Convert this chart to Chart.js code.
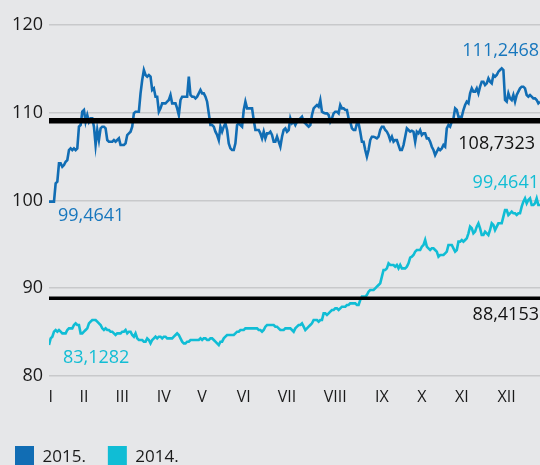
<!DOCTYPE html>
<html>
<head>
<meta charset="utf-8">
<script src="https://cdn.jsdelivr.net/npm/chart.js@4.4.1/dist/chart.umd.min.js"></script>
<style>
  html, body { margin: 0; padding: 0; background: #e6e7e9; overflow: hidden; }
  #wrap { width: 540px; height: 479px; }
</style>
</head>
<body>
<div id="wrap"><canvas id="c" width="540" height="479"></canvas></div>
<script>
// ---- data ----
const seriesNames = ['2015.', '2014.'];
const monthLabels = ['I','II','III','IV','V','VI','VII','VIII','IX','X','XI','XII'];
const monthIdx = [1, 21, 44, 69, 92, 117, 143, 172, 200, 224, 248, 275];
const yTicks = [80, 90, 100, 110, 120];

const values2015 = [
99.87, 99.87, 99.87, 99.87, 101.95, 102.14, 104.23, 104.23, 103.85, 104.04,
104.42, 104.61, 105.75, 105.94, 105.75, 105.94, 105.75, 105.94, 108.41, 108.60,
110.12, 110.31, 108.98, 109.74, 108.98, 109.36, 109.36, 108.41, 106.32, 108.03,
106.89, 108.22, 108.41, 108.41, 108.22, 106.89, 106.70, 106.70, 106.70, 106.89,
106.70, 106.89, 107.08, 106.32, 106.32, 106.32, 106.51, 107.46, 107.65, 107.84,
108.41, 109.93, 110.12, 110.12, 110.12, 112.21, 113.73, 114.87, 114.30, 114.11,
114.30, 114.11, 112.59, 112.78, 111.83, 111.83, 110.12, 110.50, 111.07, 111.07,
111.07, 111.26, 111.45, 112.02, 111.07, 111.07, 111.07, 110.50, 109.74, 111.45,
111.83, 111.83, 111.83, 111.83, 114.11, 112.02, 111.83, 111.83, 111.64, 111.83,
112.21, 112.59, 112.21, 112.21, 111.83, 111.26, 109.93, 108.60, 108.60, 108.41,
107.84, 107.46, 106.89, 108.41, 107.84, 108.41, 108.79, 108.03, 106.51, 105.94,
105.75, 105.75, 106.51, 108.60, 108.79, 108.60, 108.41, 110.31, 111.26, 110.50,
110.50, 110.50, 110.50, 109.17, 108.03, 108.03, 108.03, 107.65, 107.08, 107.84,
107.08, 107.65, 107.65, 107.84, 107.46, 106.70, 106.70, 107.27, 106.70, 106.13,
107.27, 108.03, 108.22, 107.84, 108.03, 109.36, 108.79, 108.98, 108.60, 108.98,
109.17, 109.36, 109.55, 108.98, 108.79, 108.60, 108.41, 108.60, 109.74, 110.50,
110.69, 110.88, 110.69, 111.45, 110.12, 110.00, 109.93, 109.93, 109.74, 108.98,
109.36, 109.93, 110.12, 110.12, 109.93, 110.88, 110.50, 110.50, 110.31, 110.31,
109.36, 108.98, 108.22, 108.03, 108.03, 108.79, 108.79, 107.84, 106.70, 106.70,
105.75, 104.99, 105.75, 106.89, 107.27, 107.27, 107.20, 107.08, 107.27, 108.03,
108.41, 108.41, 108.03, 107.84, 107.46, 106.89, 107.27, 106.70, 106.89, 106.89,
106.32, 105.75, 105.75, 106.32, 107.27, 108.22, 108.03, 107.84, 107.95, 107.84,
106.70, 107.84, 107.65, 108.03, 107.46, 107.65, 107.65, 107.08, 107.08, 106.70,
106.13, 105.75, 105.18, 105.56, 105.94, 105.75, 105.94, 106.32, 106.13, 108.22,
108.60, 108.41, 108.98, 109.36, 110.50, 110.31, 109.55, 109.55, 109.55, 110.31,
110.88, 111.26, 111.07, 112.21, 112.78, 112.40, 112.40, 112.78, 112.21, 112.97,
113.54, 113.54, 113.16, 113.35, 113.92, 113.54, 113.35, 114.30, 114.11, 114.30,
114.68, 114.87, 115.06, 114.87, 111.45, 111.26, 112.21, 111.64, 111.45, 112.02,
111.26, 112.02, 112.40, 112.78, 112.97, 112.97, 112.78, 112.02, 111.83, 112.02,
111.83, 111.64, 111.64, 111.45, 111.07, 111.26
];

const values2014 = [
83.53, 84.29, 84.48, 85.05, 85.24, 85.05, 85.24, 85.05, 84.86, 84.86,
84.86, 85.24, 85.43, 85.43, 85.43, 85.81, 86.00, 85.81, 85.81, 84.86,
84.86, 85.05, 85.24, 85.43, 86.00, 86.19, 86.38, 86.38, 86.38, 86.19,
86.00, 85.81, 85.43, 85.24, 85.43, 85.24, 85.24, 85.05, 85.05, 84.86,
84.67, 84.86, 84.86, 84.86, 85.05, 85.05, 85.24, 84.86, 85.05, 85.05,
84.67, 84.48, 84.86, 84.29, 84.10, 84.10, 84.10, 83.91, 83.91, 84.29,
84.10, 83.72, 84.10, 84.29, 84.48, 84.29, 84.48, 84.48, 84.29, 84.48,
84.48, 84.29, 84.29, 84.29, 84.29, 84.48, 84.67, 84.86, 84.67, 84.29,
83.91, 83.72, 83.72, 83.91, 83.91, 84.10, 84.10, 84.10, 84.10, 84.10,
84.10, 84.29, 84.10, 84.29, 84.29, 84.10, 84.10, 84.29, 84.29, 84.10,
83.91, 83.72, 83.53, 83.91, 83.91, 84.29, 84.48, 84.67, 84.67, 84.67,
84.67, 84.67, 84.86, 85.05, 85.05, 85.24, 85.24, 85.24, 85.43, 85.43,
85.43, 85.43, 85.43, 85.43, 85.43, 85.43, 85.24, 85.24, 85.05, 85.24,
85.62, 85.81, 85.81, 85.81, 85.81, 85.81, 85.62, 85.62, 85.43, 85.24,
85.24, 85.24, 85.43, 85.43, 85.43, 85.43, 85.24, 85.05, 85.43, 85.62,
85.81, 85.81, 86.00, 85.62, 85.24, 85.43, 85.62, 85.81, 86.00, 86.38,
86.38, 86.38, 86.19, 86.38, 86.38, 87.14, 87.14, 86.95, 87.14, 87.33,
87.52, 87.52, 87.71, 87.71, 87.52, 87.71, 87.90, 87.90, 87.90, 88.09,
88.09, 88.28, 88.28, 88.28, 88.28, 88.09, 88.09, 88.66, 89.04, 89.04,
89.04, 89.23, 89.61, 89.80, 89.80, 89.80, 89.99, 90.18, 90.37, 90.56,
91.32, 92.08, 92.08, 92.27, 92.84, 92.65, 92.65, 92.65, 92.46, 92.65,
92.27, 92.65, 92.27, 92.27, 92.27, 92.46, 92.84, 93.50, 93.60, 93.79,
94.17, 94.36, 94.36, 94.36, 94.74, 94.93, 95.50, 94.74, 94.55, 94.36,
94.55, 94.55, 94.36, 94.17, 93.60, 93.79, 93.79, 93.79, 93.98, 94.17,
94.93, 94.93, 94.93, 94.55, 94.17, 94.36, 95.31, 95.31, 95.50, 95.31,
95.50, 95.69, 96.26, 97.02, 96.83, 96.26, 96.45, 97.02, 97.40, 96.83,
96.07, 96.07, 96.45, 96.26, 96.07, 96.64, 97.40, 97.21, 96.64, 97.02,
97.40, 97.40, 97.40, 98.16, 98.92, 98.92, 98.35, 98.54, 98.73, 98.54,
98.54, 98.35, 98.54, 98.54, 99.30, 99.87, 100.25, 99.68, 100.06, 100.25,
99.49, 99.49, 99.68, 100.25, 99.49, 99.49
];

// reference (average) levels as drawn
const refLevels = [109.1, 88.86];

// value labels
const annotationTexts = ['111,2468', '108,7323', '99,4641', '88,4153', '99,4641', '83,1282'];
const annotationValues = [111.2468, 108.7323, 99.4641, 88.4153, 99.4641, 83.1282];

// ---- styles ----
const BLUE = '#116db4';
const CYAN = '#10bdd5';
const annotationStyles = [
  { side: 'right', dx: 1,  dy: -51,  color: '#1877bd' },
  { side: 'right', dx: 5,  dy: 20,   color: '#111111' },
  { side: 'right', dx: 1,  dy: -22,  color: '#12bdd4' },
  { side: 'right', dx: 1,  dy: 13,   color: '#111111' },
  { side: 'left',  dx: 9,  dy: 11,   color: '#1877bd' },
  { side: 'left',  dx: 14, dy: 9,    color: '#12bdd4' }
];
const FONT = '"Open Sans", "Noto Sans", sans-serif';

const lastIdx = values2015.length - 1;
const toPoints = arr => arr.map((v, i) => ({ x: i, y: v }));
const refLine = v => [{ x: 0, y: v }, { x: lastIdx, y: v }];

const valueLabels = {
  id: 'valueLabels',
  afterDatasetsDraw(chart) {
    const { ctx, chartArea, scales } = chart;
    ctx.save();
    ctx.font = '18px ' + FONT;
    ctx.textBaseline = 'middle';
    annotationTexts.forEach((t, k) => {
      const st = annotationStyles[k];
      ctx.fillStyle = st.color;
      ctx.textAlign = st.side;
      const x = st.side === 'left' ? chartArea.left + st.dx : chartArea.right - st.dx;
      ctx.fillText(t, x, scales.y.getPixelForValue(annotationValues[k]) + st.dy);
    });
    ctx.restore();
  }
};

const legendShift = {
  id: 'legendShift',
  afterLayout(chart) {
    if (chart.legend) { chart.legend.left -= 7; chart.legend.right -= 7; }
  }
};

new Chart(document.getElementById('c'), {
  type: 'line',
  data: {
    datasets: [
      { label: seriesNames[0], data: toPoints(values2015), borderColor: BLUE, backgroundColor: BLUE,
        borderWidth: 2.6, pointRadius: 0, order: 2 },
      { label: seriesNames[1], data: toPoints(values2014), borderColor: CYAN, backgroundColor: CYAN,
        borderWidth: 2.6, pointRadius: 0, order: 3 },
      { label: 'ref1', data: refLine(refLevels[0]), borderColor: '#000', borderWidth: 5.5, pointRadius: 0, order: 0 },
      { label: 'ref2', data: refLine(refLevels[1]), borderColor: '#000', borderWidth: 3.3, pointRadius: 0, order: 1 }
    ]
  },
  options: {
    responsive: false,
    animation: false,
    devicePixelRatio: 1,
    layout: { padding: { top: 25, right: 0, left: 0, bottom: 0 } },
    plugins: {
      tooltip: { enabled: false },
      legend: {
        position: 'bottom',
        align: 'start',
        labels: {
          boxWidth: 19, boxHeight: 23, padding: 22,
          color: '#1a1a1a',
          font: { family: FONT, size: 17 },
          generateLabels(chart) {
            return Chart.defaults.plugins.legend.labels.generateLabels(chart)
              .filter(it => it.datasetIndex < 2)
              .map(it => Object.assign(it, { lineWidth: 0 }));
          }
        }
      }
    },
    scales: {
      x: {
        type: 'linear',
        min: 0, max: lastIdx,
        grid: { display: false, drawTicks: false },
        border: { display: false },
        afterBuildTicks(axis) { axis.ticks = monthIdx.map(v => ({ value: v })); },
        afterFit(axis) { axis.height = 48; },
        ticks: {
          autoSkip: false, maxRotation: 0, padding: 12,
          color: '#1a1a1a',
          font: { family: FONT, size: 16 },
          callback: (value) => monthLabels[monthIdx.indexOf(value)]
        }
      },
      y: {
        min: 80, max: 120,
        afterBuildTicks(axis) { axis.ticks = yTicks.map(v => ({ value: v })); },
        afterFit(axis) { axis.width = 49; },
        grid: { color: '#c8c9cb', lineWidth: 1.6, drawTicks: false },
        border: { display: false },
        ticks: {
          padding: 6,
          color: '#1a1a1a',
          font: { family: FONT, size: 18 }
        }
      }
    }
  },
  plugins: [valueLabels, legendShift]
});
</script>
</body>
</html>
